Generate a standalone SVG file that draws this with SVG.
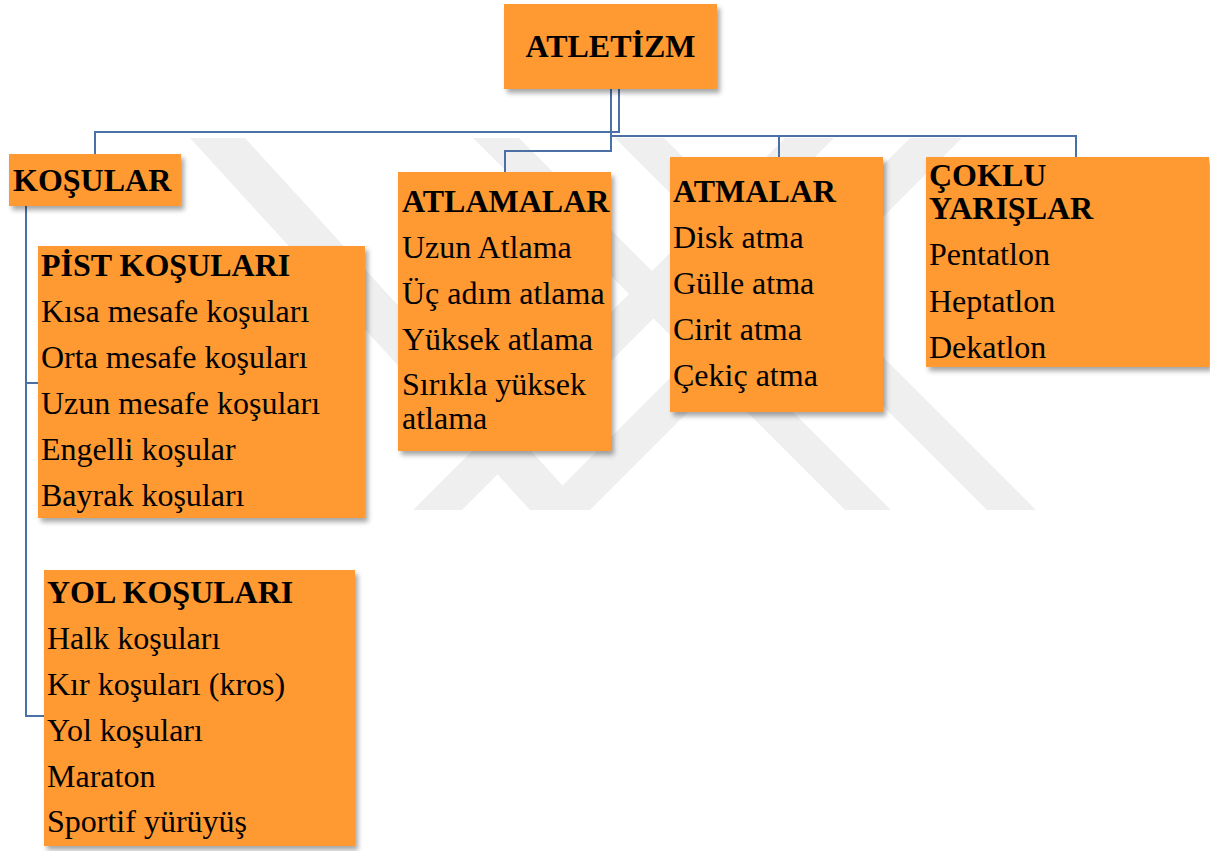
<svg xmlns="http://www.w3.org/2000/svg" width="1210" height="851" viewBox="0 0 1210 851">
  <style>
    .box { fill: #FF9933; filter: url(#sh); }
    .t { font-family: "Liberation Serif", "Times New Roman", serif; font-size: 32px; fill: #000; }
    .b { font-weight: bold; }
    .conn { fill: none; stroke: #4A70A6; stroke-width: 2; }
    .wm { fill: #EFEFEF; }
  </style>
  <defs>
    <filter id="sh" x="-10%" y="-10%" width="130%" height="130%">
      <feDropShadow dx="3" dy="4" stdDeviation="2.5" flood-color="#000" flood-opacity="0.35"/>
    </filter>
  </defs>
  <rect width="1210" height="851" fill="#FFFFFF"/>

  <g id="watermark">
    <polygon class="wm" points="190,138 245,138 585,510 530,510"/>
    <polygon class="wm" points="538,510 590,510 962,138 910,138"/>
    <polygon class="wm" points="413,510 462,510 834,138 785,138"/>
    <polygon class="wm" points="473,138 519,138 891,510 845,510"/>
    <polygon class="wm" points="615,138 664,138 1036,510 987,510"/>
  </g>

  <g id="connectors">
    <polyline class="conn" points="619,89 619,132 95,132 95,154"/>
    <polyline class="conn" points="611,89 611,151 505,151 505,172"/>
    <polyline class="conn" points="611,136 1076,136 1076,157"/>
    <line class="conn" x1="779" y1="136" x2="779" y2="157"/>
    <polyline class="conn" points="26,206 26,716 44,716"/>
    <line class="conn" x1="26" y1="383" x2="38" y2="383"/>
  </g>

  <g id="atletizm">
    <rect class="box" x="504" y="4" width="213" height="85"/>
    <text class="t b" x="610.5" y="57" text-anchor="middle">ATLETİZM</text>
  </g>

  <g id="kosular">
    <rect class="box" x="9" y="154" width="172" height="52"/>
    <text class="t b" x="13" y="191">KOŞULAR</text>
  </g>

  <g id="pist">
    <rect class="box" x="38" y="246" width="327" height="272"/>
    <text class="t b" x="41" y="276">PİST KOŞULARI</text>
    <text class="t" x="41" y="322">Kısa mesafe koşuları</text>
    <text class="t" x="41" y="368">Orta mesafe koşuları</text>
    <text class="t" x="41" y="414">Uzun mesafe koşuları</text>
    <text class="t" x="41" y="460">Engelli koşular</text>
    <text class="t" x="41" y="506">Bayrak koşuları</text>
  </g>

  <g id="yol">
    <rect class="box" x="44" y="570" width="311" height="276"/>
    <text class="t b" x="47" y="603">YOL KOŞULARI</text>
    <text class="t" x="47" y="649">Halk koşuları</text>
    <text class="t" x="47" y="695">Kır koşuları (kros)</text>
    <text class="t" x="47" y="741">Yol koşuları</text>
    <text class="t" x="47" y="787">Maraton</text>
    <text class="t" x="47" y="832">Sportif yürüyüş</text>
  </g>

  <g id="atlamalar">
    <rect class="box" x="398" y="172" width="213" height="279"/>
    <text class="t b" x="402" y="212">ATLAMALAR</text>
    <text class="t" x="402" y="258">Uzun Atlama</text>
    <text class="t" x="402" y="304">Üç adım atlama</text>
    <text class="t" x="402" y="350">Yüksek atlama</text>
    <text class="t" x="402" y="395">Sırıkla yüksek</text>
    <text class="t" x="402" y="429">atlama</text>
  </g>

  <g id="atmalar">
    <rect class="box" x="670" y="157" width="213" height="255"/>
    <text class="t b" x="673" y="202">ATMALAR</text>
    <text class="t" x="673" y="248">Disk atma</text>
    <text class="t" x="673" y="294">Gülle atma</text>
    <text class="t" x="673" y="340">Cirit atma</text>
    <text class="t" x="673" y="386">Çekiç atma</text>
  </g>

  <g id="coklu">
    <rect class="box" x="926" y="157" width="283" height="210"/>
    <text class="t b" x="929" y="186">ÇOKLU</text>
    <text class="t b" x="929" y="219">YARIŞLAR</text>
    <text class="t" x="929" y="265">Pentatlon</text>
    <text class="t" x="929" y="312">Heptatlon</text>
    <text class="t" x="929" y="358">Dekatlon</text>
  </g>
</svg>
